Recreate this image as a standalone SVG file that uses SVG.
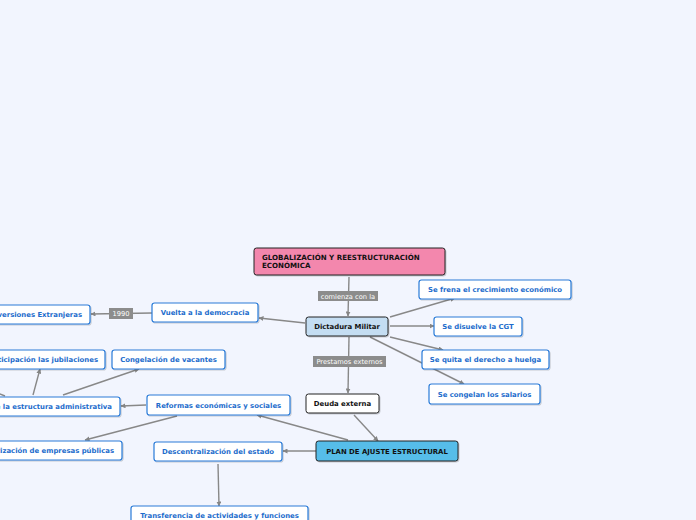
<svg xmlns="http://www.w3.org/2000/svg" width="696" height="520" viewBox="0 0 696 520">
<defs>
<marker id="ah" viewBox="0 0 10 10" refX="9" refY="5" markerWidth="5" markerHeight="5" orient="auto" markerUnits="userSpaceOnUse">
<path d="M0,0 L10,5 L0,10 z" fill="#858585"/>
</marker>
<filter id="sh" x="-10%" y="-20%" width="120%" height="160%">
<feDropShadow dx="1" dy="1" stdDeviation="0.6" flood-color="#000" flood-opacity="0.18"/>
</filter>
</defs>
<style>
.n rect{fill:#fff;stroke:#2a7bd8;stroke-width:1.2;filter:url(#sh)}
.n text{font-family:"DejaVu Sans",Verdana,sans-serif;font-weight:bold;font-size:6.9px;fill:#1c6ccc;text-anchor:middle}
.d rect{stroke:#222;stroke-width:1}
.d text{fill:#111}
.c line,.c path{stroke:#888;stroke-width:1.4;fill:none}
.a{marker-end:url(#ah)}
.lb rect{fill:#8c8c8c}
.lb text{font-family:"DejaVu Sans",Verdana,sans-serif;font-size:6.7px;fill:#fff;text-anchor:middle}
</style>
<rect width="696" height="520" fill="#f2f5fe"/>
<g id="connectors" class="c">
<line class="a" x1="349" y1="277" x2="348" y2="316"/>
<line class="a" x1="390" y1="317" x2="455" y2="298"/>
<line class="a" x1="390" y1="326" x2="434" y2="326"/>
<line class="a" x1="390" y1="337" x2="443" y2="350"/>
<line class="a" x1="370" y1="337" x2="464" y2="384"/>
<line class="a" x1="305" y1="323" x2="259" y2="318"/>
<line class="a" x1="152" y1="313" x2="91" y2="314"/>
<line class="a" x1="349" y1="337" x2="348" y2="393"/>
<line class="a" x1="354" y1="415" x2="378" y2="441"/>
<line class="a" x1="348" y1="440" x2="257" y2="415"/>
<line class="a" x1="316" y1="451" x2="283" y2="451"/>
<line class="a" x1="218" y1="464" x2="219" y2="506"/>
<line class="a" x1="146" y1="405" x2="121" y2="406"/>
<line class="a" x1="33" y1="395" x2="40" y2="369"/>
<line class="a" x1="63" y1="395" x2="139" y2="369"/>
<line x1="5" y1="396" x2="-20" y2="386"/>
<line class="a" x1="177" y1="416" x2="85" y2="440"/>
</g>
<g id="lbl-comienza" class="lb"><rect x="318" y="291" width="60" height="10"/><text x="348" y="298.5">comienza con la</text></g>
<g id="lbl-prestamos" class="lb"><rect x="313" y="356" width="73" height="11"/><text x="349.5" y="363.8">Prestamos externos</text></g>
<g id="lbl-1990" class="lb"><rect x="109" y="308" width="24" height="11"/><text x="121" y="315.8">1990</text></g>

<g id="n-title" class="n d"><rect x="254" y="248" width="191" height="27" rx="2.5" style="fill:#f387ad"/>
<text x="262" y="259.5" style="text-anchor:start;font-size:7.1px">GLOBALIZACIÓN Y REESTRUCTURACIÓN</text>
<text x="262" y="268" style="text-anchor:start;font-size:7.1px">ECONÓMICA</text></g>
<g id="n-dictadura" class="n d"><rect x="306" y="317" width="82" height="19" rx="2.5" style="fill:#c4ddf2"/><text x="347" y="329">Dictadura Militar</text></g>
<g id="n-frena" class="n"><rect x="419" y="280" width="152" height="19" rx="2.5"/><text x="495" y="292">Se frena el crecimiento económico</text></g>
<g id="n-cgt" class="n"><rect x="434" y="317" width="88" height="19" rx="2.5"/><text x="478" y="329">Se disuelve la CGT</text></g>
<g id="n-huelga" class="n"><rect x="422" y="350" width="127" height="19" rx="2.5"/><text x="485.5" y="362">Se quita el derecho a huelga</text></g>
<g id="n-salarios" class="n"><rect x="429" y="384" width="111" height="20" rx="2.5"/><text x="484.5" y="396.5">Se congelan los salarios</text></g>
<g id="n-vuelta" class="n"><rect x="152" y="303" width="106" height="19" rx="2.5"/><text x="205" y="315">Vuelta a la democracia</text></g>
<g id="n-inversiones" class="n"><rect x="-40" y="305" width="130" height="19" rx="2.5"/><text x="82" y="317" style="text-anchor:end">Inversiones Extranjeras</text></g>
<g id="n-jubilaciones" class="n"><rect x="-50" y="350" width="155" height="19" rx="2.5"/><text x="98" y="362" style="text-anchor:end">Anticipación las jubilaciones</text></g>
<g id="n-vacantes" class="n"><rect x="112" y="350" width="113" height="19" rx="2.5"/><text x="168.5" y="362">Congelación de vacantes</text></g>
<g id="n-estructura" class="n"><rect x="-90" y="397" width="210" height="19" rx="2.5"/><text x="112" y="409" style="text-anchor:end">Reducción de la estructura administrativa</text></g>
<g id="n-reformas" class="n"><rect x="147" y="395" width="143" height="20" rx="2.5"/><text x="218.5" y="407.5">Reformas económicas y sociales</text></g>
<g id="n-privatizacion" class="n"><rect x="-60" y="441" width="182" height="19" rx="2.5"/><text x="114" y="453" style="text-anchor:end">Privatización de empresas públicas</text></g>
<g id="n-descentralizacion" class="n"><rect x="154" y="442" width="128" height="19" rx="2.5"/><text x="218" y="454">Descentralización del estado</text></g>
<g id="n-transferencia" class="n"><rect x="131" y="506" width="177" height="20" rx="2.5"/><text x="219.5" y="518">Transferencia de actividades y funciones</text></g>
<g id="n-deuda" class="n d"><rect x="306" y="394" width="73" height="19" rx="2.5"/><text x="342.5" y="406">Deuda externa</text></g>
<g id="n-plan" class="n d"><rect x="316" y="441" width="142" height="20" rx="2.5" style="fill:#56bde9"/><text x="387" y="453.5">PLAN DE AJUSTE ESTRUCTURAL</text></g>
</svg>
